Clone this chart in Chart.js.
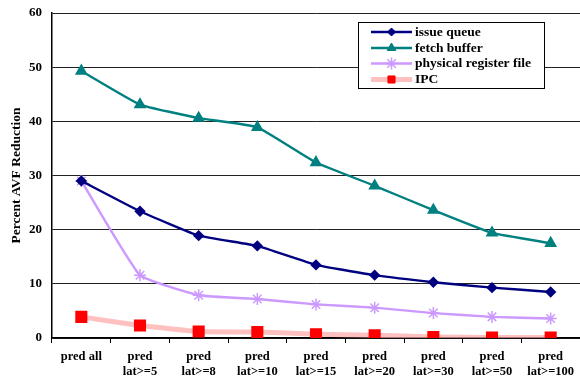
<!DOCTYPE html>
<html>
<head>
<meta charset="utf-8">
<script src="https://cdn.jsdelivr.net/npm/chart.js@4/dist/chart.umd.min.js"></script>
<style>
  html, body { margin: 0; padding: 0; background: #fff; }
  #wrap { width: 580px; height: 377px; }
</style>
</head>
<body>
<div id="wrap"><canvas id="c" width="580" height="377"></canvas></div>
<script>
// Prediction threshold categories
const categories = [
  'pred all',
  ['pred', 'lat>=5'],
  ['pred', 'lat>=8'],
  ['pred', 'lat>=10'],
  ['pred', 'lat>=15'],
  ['pred', 'lat>=20'],
  ['pred', 'lat>=30'],
  ['pred', 'lat>=50'],
  ['pred', 'lat>=100']
];

// Percent AVF reduction per structure, and IPC loss
const issueQueue   = [29.0, 23.4, 18.9, 17.0, 13.5, 11.6, 10.3, 9.3, 8.5];
const fetchBuffer  = [49.3, 43.1, 40.6, 38.9, 32.4, 28.1, 23.6, 19.4, 17.5];
const physRegFile  = [29.0, 11.6, 7.9, 7.2, 6.2, 5.6, 4.6, 3.9, 3.6];
const ipc          = [3.9, 2.3, 1.2, 1.1, 0.7, 0.5, 0.2, 0.1, 0.1];

const yTicks = [0, 10, 20, 30, 40, 50, 60];

const FONT = "'Liberation Serif', 'Times New Roman', serif";

const datasets = [
  {
    label: 'issue queue', data: issueQueue,
    borderColor: '#000080', backgroundColor: '#000080',
    borderWidth: 2.4, pointStyle: 'rectRot', pointRadius: 4, tension: 0.12
  },
  {
    label: 'fetch buffer', data: fetchBuffer,
    borderColor: '#008080', backgroundColor: '#008080',
    borderWidth: 2.4, pointStyle: 'triangle', pointRadius: 5, tension: 0.12
  },
  {
    label: 'physical register file', data: physRegFile,
    borderColor: '#CC99FF', backgroundColor: '#CC99FF',
    borderWidth: 2.4, pointStyle: 'star', pointRadius: 6, pointBorderWidth: 1.5, tension: 0.12
  },
  {
    label: 'IPC', data: ipc,
    borderColor: 'rgba(255,165,165,0.7)', backgroundColor: '#FF0000',
    pointBorderColor: '#FF0000',
    borderWidth: 5, pointStyle: 'rect', pointRadius: 5, tension: 0.12
  }
];

// Boxed legend drawn inside the plot, with a line and a centred marker per entry
const boxedLegend = {
  id: 'boxedLegend',
  afterDraw(chart) {
    const ctx = chart.ctx;
    const x0 = 358.5, y0 = 22.5, w = 186, h = 66;
    ctx.save();
    ctx.fillStyle = '#fff';
    ctx.fillRect(x0, y0, w, h);
    ctx.strokeStyle = '#000';
    ctx.lineWidth = 1;
    ctx.strokeRect(x0, y0, w, h);
    const rowY = [32, 48, 63.5, 79.5];
    chart.data.datasets.forEach((ds, i) => {
      const y = rowY[i];
      ctx.strokeStyle = ds.borderColor;
      ctx.lineWidth = ds.borderWidth;
      ctx.beginPath();
      ctx.moveTo(371, y);
      ctx.lineTo(412, y);
      ctx.stroke();
      ctx.fillStyle = ds.backgroundColor;
      ctx.strokeStyle = ds.pointBorderColor || ds.borderColor;
      ctx.lineWidth = ds.pointBorderWidth || 1;
      Chart.helpers.drawPoint(ctx, {
        pointStyle: ds.pointStyle,
        radius: ds.pointRadius,
        borderWidth: ds.pointBorderWidth || 1
      }, 391.5, y);
      ctx.fillStyle = '#000';
      ctx.font = 'bold 13.5px ' + FONT;
      ctx.textBaseline = 'middle';
      ctx.textAlign = 'left';
      ctx.fillText(ds.label, 415, y + 0.5);
    });
    ctx.restore();
  }
};

new Chart(document.getElementById('c'), {
  type: 'line',
  data: { labels: categories, datasets },
  plugins: [boxedLegend],
  options: {
    responsive: false,
    animation: false,
    layout: { autoPadding: false, padding: { top: 13, right: 0, bottom: 0, left: 0 } },
    plugins: { legend: { display: false }, tooltip: { enabled: false } },
    scales: {
      x: {
        type: 'category',
        offset: true,
        afterFit(axis) { axis.height = 39; axis.paddingLeft = 0; axis.paddingRight = 0; },
        grid: {
          offset: true,
          drawOnChartArea: false,
          drawTicks: true,
          tickLength: 5,
          color: '#000'
        },
        border: { color: '#000', width: 1.5 },
        ticks: {
          color: '#000',
          font: { family: FONT, size: 12.5, weight: 'bold', lineHeight: 1.2 },
          maxRotation: 0,
          autoSkip: false,
          padding: 6
        }
      },
      y: {
        min: 0, max: 60,
        afterBuildTicks(axis) { axis.ticks = yTicks.map(v => ({ value: v })); },
        afterFit(axis) { axis.width = 52; axis.paddingTop = 0; axis.paddingBottom = 0; },
        grid: { color: '#222', lineWidth: 1, drawTicks: false },
        border: { color: '#000', width: 1.5 },
        ticks: {
          color: '#000',
          font: { family: FONT, size: 13, weight: 'bold' },
          padding: 10
        },
        title: {
          display: true,
          text: 'Percent AVF Reduction',
          color: '#000',
          font: { family: FONT, size: 13.5, weight: 'bold' },
          padding: { top: 8, bottom: 0 }
        }
      }
    }
  }
});
</script>
</body>
</html>
